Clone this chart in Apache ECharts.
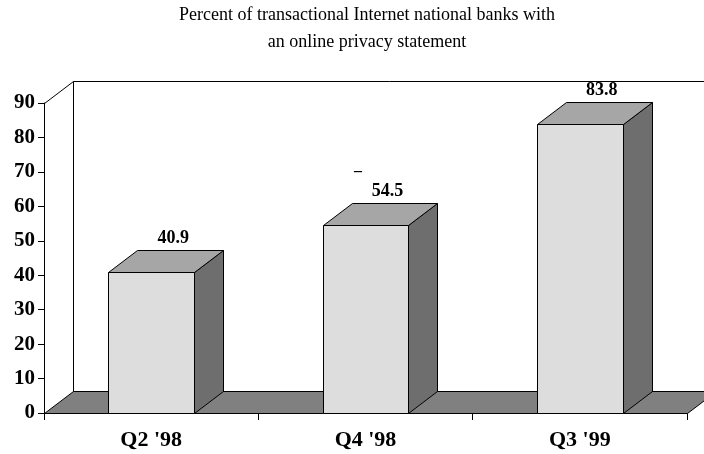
<!DOCTYPE html>
<html>
<head>
<meta charset="utf-8">
<script src="https://cdn.jsdelivr.net/npm/echarts@6/dist/echarts.min.js"></script>
<style>
  html, body { margin: 0; padding: 0; background: #fff; }
  #chart { width: 704px; height: 454px; }
</style>
</head>
<body>
<div id="chart"></div>
<script>
// Quarters surveyed and share of banks with a privacy statement (%)
const categories = ["Q2 '98", "Q4 '98", "Q3 '99"];
const values = [40.9, 54.5, 83.8];
const yMin = 0;
const yMax = 90;
const yStep = 10;

const titleLines = [
  'Percent of transactional Internet national banks with',
  'an online privacy statement'
];

// Pseudo-3D depth offset (pixels) and shading
const DX = 29, DY = -22;
const FRONT = '#dddddd', TOP = '#a6a6a6', SIDE = '#6e6e6e', FLOOR = '#808080';
const SERIF = '"Liberation Serif", "Times New Roman", serif';

const px = v => Math.round(v) + 0.5;

const chart = echarts.init(document.getElementById('chart'));

function renderFrame(params, api) {
  const cs = params.coordSys;
  const l = px(cs.x), r = px(cs.x + cs.width);
  const t = px(cs.y), b = px(cs.y + cs.height);
  const lineStyle = { stroke: '#000', lineWidth: 1 };
  return {
    type: 'group',
    children: [
      // back wall
      { type: 'rect', shape: { x: l + DX, y: t + DY, width: r - l, height: b - t },
        style: Object.assign({ fill: '#fff' }, lineStyle) },
      // left wall top edge
      { type: 'line', shape: { x1: l, y1: t, x2: l + DX, y2: t + DY }, style: lineStyle },
      // floor
      { type: 'polygon', shape: { points: [[l, b], [r, b], [r + DX, b + DY], [l + DX, b + DY]] },
        style: Object.assign({ fill: FLOOR }, lineStyle) }
    ]
  };
}

function renderBar(params, api) {
  const idx = api.value(0);
  const v = api.value(1);
  const top = api.coord([idx, v]);
  const base = api.coord([idx, 0]);
  const w = api.size([1, 0])[0] * 0.4;
  const x1 = px(top[0] - w / 2), x2 = px(top[0] + w / 2);
  const yt = px(top[1]), yb = px(base[1]);
  const lineStyle = { stroke: '#000', lineWidth: 1 };
  return {
    type: 'group',
    children: [
      { type: 'polygon', shape: { points: [[x2, yt], [x2 + DX, yt + DY], [x2 + DX, yb + DY], [x2, yb]] },
        style: Object.assign({ fill: SIDE }, lineStyle) },
      { type: 'polygon', shape: { points: [[x1, yt], [x1 + DX, yt + DY], [x2 + DX, yt + DY], [x2, yt]] },
        style: Object.assign({ fill: TOP }, lineStyle) },
      { type: 'rect', shape: { x: x1, y: yt, width: x2 - x1, height: yb - yt },
        style: Object.assign({ fill: FRONT }, lineStyle) },
      { type: 'text', x: top[0] + 22, y: top[1] - 34,
        style: { text: v.toFixed(1), fill: '#000', font: 'bold 18px ' + SERIF,
                 align: 'center', verticalAlign: 'middle' } }
    ]
  };
}

chart.setOption({
  animation: false,
  backgroundColor: '#fff',
  title: {
    text: titleLines.join('\n'),
    left: 362,
    top: -3,
    textAlign: 'center',
    textStyle: { fontFamily: SERIF, fontSize: 18, fontWeight: 'normal', color: '#000', lineHeight: 27 }
  },
  grid: { left: 44, right: 17, top: 103, bottom: 41 },
  xAxis: {
    type: 'category',
    data: categories,
    boundaryGap: true,
    axisLine: { lineStyle: { color: '#000', width: 1 } },
    axisTick: { show: true, length: 7, lineStyle: { color: '#000' } },
    axisLabel: { color: '#000', fontFamily: SERIF, fontWeight: 'bold', fontSize: 22, margin: 16 },
    splitLine: { show: false }
  },
  yAxis: {
    type: 'value',
    min: yMin,
    max: yMax,
    interval: yStep,
    axisLine: { show: true, lineStyle: { color: '#000', width: 1 } },
    axisTick: { show: true, length: 6, lineStyle: { color: '#000' } },
    axisLabel: { color: '#000', fontFamily: SERIF, fontWeight: 'bold', fontSize: 21, margin: 9 },
    splitLine: { show: false }
  },
  graphic: [
    { type: 'text', x: 358, y: 172, z: 100,
      style: { text: '–', font: 'bold 16px ' + SERIF, fill: '#000', align: 'center', verticalAlign: 'middle' } }
  ],
  series: [
    { type: 'custom', renderItem: renderFrame, data: [[0, 0]], z: 1, silent: true, clip: false },
    { type: 'custom', renderItem: renderBar, data: values.map((v, i) => [i, v]),
      encode: { x: 0, y: 1 }, z: 2, clip: false }
  ]
});
</script>
</body>
</html>
